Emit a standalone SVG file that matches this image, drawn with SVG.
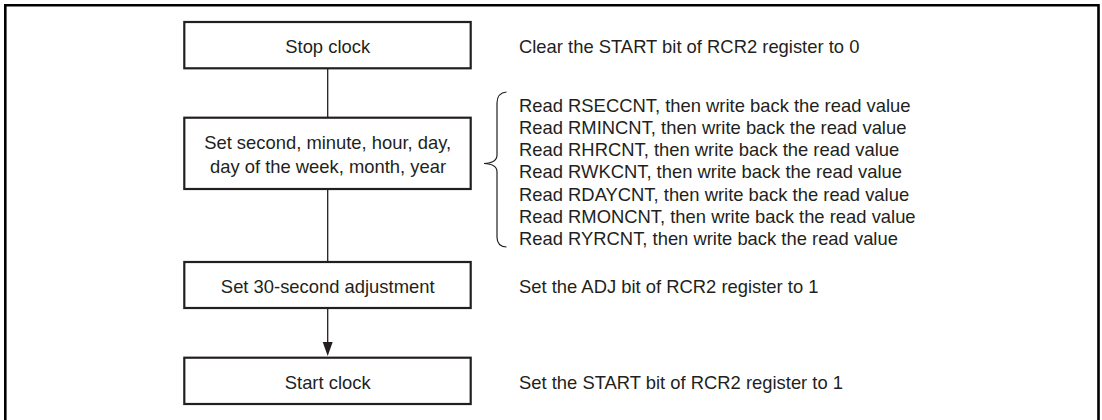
<svg xmlns="http://www.w3.org/2000/svg" width="1102" height="420" viewBox="0 0 1102 420">
<style>
text{font-family:"Liberation Sans",Arial,sans-serif;font-size:18.4px;fill:#231f20}
.c{text-anchor:middle}
.box{fill:#fff;stroke:#231f20;stroke-width:2.2}
.conn{stroke:#231f20;stroke-width:1.3;fill:none}
</style>
<rect width="1102" height="420" fill="#fff"/>
<path d="M5.3,425 V5.3 H1098.5 V425" fill="none" stroke="#000" stroke-width="2.6"/>
<g id="connectors">
<line class="conn" x1="327.7" y1="69" x2="327.7" y2="117"/>
<line class="conn" x1="327.7" y1="189" x2="327.7" y2="261"/>
<line class="conn" x1="327.7" y1="309" x2="327.7" y2="342"/>
<path d="M322.7,342 L332.7,342 L327.7,356 Z" fill="#231f20"/>
</g>
<g id="n1">
<rect class="box" x="184.3" y="22" width="286.4" height="46.3"/>
<text class="c" x="327.7" y="52.5">Stop clock</text>
</g>
<g id="n2">
<rect class="box" x="184.3" y="117.7" width="286.4" height="71.3"/>
<text class="c" x="327.7" y="149.3">Set second, minute, hour, day,</text>
<text class="c" x="328" y="172.7">day of the week, month, year</text>
</g>
<g id="n3">
<rect class="box" x="184.3" y="262" width="286.4" height="46"/>
<text class="c" x="327.7" y="292.8">Set 30-second adjustment</text>
</g>
<g id="n4">
<rect class="box" x="184.3" y="357.7" width="286.4" height="46.3"/>
<text class="c" x="327.7" y="388.8">Start clock</text>
</g>
<g id="notes">
<text x="519" y="52.5">Clear the START bit of RCR2 register to 0</text>
<path d="M506.5,92 Q497,93 497,103 V155 Q497,163 484,163.5 Q497,164 497,172 V237 Q497,246.5 506.5,247" fill="none" stroke="#231f20" stroke-width="1.2"/>
<text x="519" y="111.7">Read RSECCNT, then write back the read value</text>
<text x="519" y="133.9">Read RMINCNT, then write back the read value</text>
<text x="519" y="156.1">Read RHRCNT, then write back the read value</text>
<text x="519" y="178.3">Read RWKCNT, then write back the read value</text>
<text x="519" y="200.5">Read RDAYCNT, then write back the read value</text>
<text x="519" y="222.7">Read RMONCNT, then write back the read value</text>
<text x="519" y="244.9">Read RYRCNT, then write back the read value</text>
<text x="519" y="292.8">Set the ADJ bit of RCR2 register to 1</text>
<text x="519" y="388.8">Set the START bit of RCR2 register to 1</text>
</g>
</svg>
